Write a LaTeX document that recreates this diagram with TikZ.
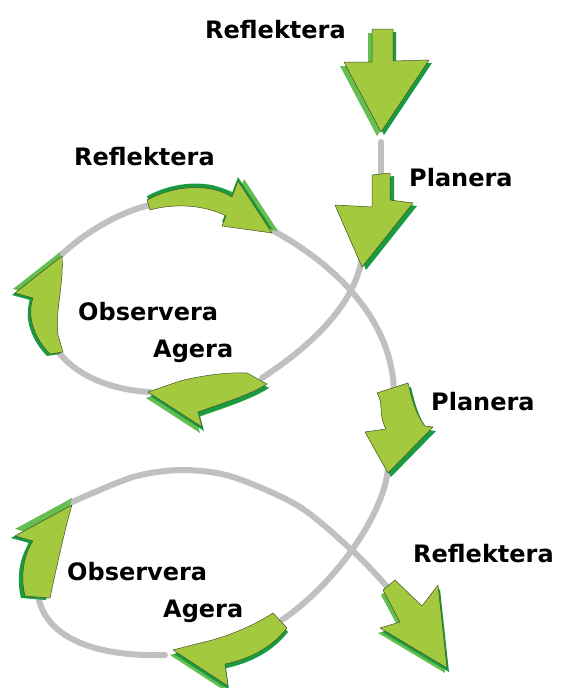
\documentclass[tikz,border=0pt]{standalone}
\usepackage{fontspec}
\setmainfont{DejaVu Sans}
\usetikzlibrary{calc}
\definecolor{leaf}{RGB}{163,201,62}
\definecolor{leafmid}{RGB}{100,190,80}
\definecolor{leafdark}{RGB}{25,155,65}
\definecolor{trackgray}{RGB}{192,192,192}
\definecolor{inkline}{RGB}{70,80,40}

% 3D arrow: light face shift, dark face shift, outline path
\newcommand{\leafarrow}[3]{%
  \fill[leafmid, shift={#1}] #3;
  \fill[leafdark, shift={#2}] #3;
  \filldraw[fill=leaf, draw=inkline, line width=0.5pt, line join=round] #3;}

\begin{document}
\begin{tikzpicture}[
  x=1pt, y=-1pt,
  lbl/.style={anchor=base west, inner sep=0pt,
              font=\fontsize{24}{28}\selectfont\bfseries},
  track/.style={draw=trackgray, line width=6pt, line cap=round}
]
\useasboundingbox (0,0) rectangle (560,688);

% Track points
\coordinate (topEnd)   at (381,142);
\coordinate (planAin)  at (381,180);
\coordinate (planAout) at (362,258);
\coordinate (refBout)  at (268,228);
\coordinate (refBin)   at (150,205);
\coordinate (obsAout)  at (60,256);
\coordinate (obsAin)   at (57,350);
\coordinate (ageAout)  at (150,392);
\coordinate (ageAin)   at (262,378);
\coordinate (planBin)  at (394,392);
\coordinate (planBout) at (388,468);
\coordinate (ageBin)   at (282,620);
\coordinate (ageBout)  at (165,655);
\coordinate (obsBin)   at (38,595);
\coordinate (obsBout)  at (70,503);
\coordinate (refCin)   at (390,590);

% Track — upper loop
\draw[track] (topEnd) -- (planAin);
\draw[track] (planAout) .. controls (355,300) and (320,340) .. (ageAin);
\draw[track] (refBout) .. controls (320,255) and (392,310) .. (planBin);
\draw[track] (ageAout) .. controls (110,390) and (75,375) .. (obsAin);
\draw[track] (obsAout) .. controls (85,232) and (120,212) .. (refBin);

% Track — lower loop
\draw[track] (planBout) .. controls (385,510) and (340,580) .. (ageBin);
\draw[track] plot[smooth] coordinates {(obsBout) (133,477) (183,470)
  (233,477) (300,507) (357,555) (refCin)};
\draw[track] (ageBout) .. controls (100,657) and (45,640) .. (obsBin);

% Arrows — straight ones
\leafarrow{(-4,4)}{(3,3)}{(372,29) -- (393,29) -- (393,61) -- (429,60)
  -- (381,132) -- (344,62) -- (372,62) -- cycle}
\leafarrow{(0,0)}{(4,3)}{(372,175) -- (390,173) -- (390,200) -- (413,203)
  -- (362,267) -- (335,205) -- (372,207) -- cycle}
\leafarrow{(0,0)}{(3,4)}{(377,393) -- (408,383) .. controls (412,400) and (416,415)
  .. (425,426) -- (433,427) -- (388,473) -- (365,432) -- (386,429)
  .. controls (378,415) and (384,403) .. cycle}
\leafarrow{(-2,5)}{(2,4)}{(383,590) -- (395,580) -- (422,606) -- (438,585)
  -- (447,668) -- (380,628) -- (400,622) -- cycle}

% Arrows — curved ones
\leafarrow{(6,-2)}{(0,-4)}{(147,200) .. controls (175,185) and (210,183)
  .. (232,197) -- (238,181) -- (272,233) -- (222,226) -- (226,216)
  .. controls (205,205) and (175,203) .. (150,210) -- cycle}
\leafarrow{(-2,-4)}{(-3,2)}{(50,354) .. controls (36,340) and (26,318)
  .. (33,298) -- (15,293) -- (62,256) .. controls (64,285) and (55,310)
  .. (58,335) -- (63,352) -- cycle}
\leafarrow{(-2,6)}{(2,4)}{(247,373) .. controls (225,372) and (200,376)
  .. (180,381) -- (148,392) -- (202,427) -- (198,412)
  .. controls (220,404) and (250,395) .. (267,384) -- cycle}
\leafarrow{(0,-7)}{(-4,2)}{(25,596) .. controls (20,575) and (24,555)
  .. (33,541) -- (15,536) -- (72,505) .. controls (66,525) and (58,560)
  .. (50,598) -- cycle}
\leafarrow{(-3,5)}{(1,4)}{(273,613) .. controls (255,625) and (225,638)
  .. (200,643) -- (173,650) -- (228,686) -- (225,664)
  .. controls (245,660) and (270,650) .. (287,628) -- cycle}

% Labels
\node[lbl] (refA)  at (205,38)  {Reflektera};
\node[lbl] (planA) at (409,186) {Planera};
\node[lbl] (refB)  at (74,165)  {Reflektera};
\node[lbl] (obsA)  at (78,320)  {Observera};
\node[lbl] (ageA)  at (153,357) {Agera};
\node[lbl] (planB) at (431,410) {Planera};
\node[lbl] (refC)  at (413,562) {Reflektera};
\node[lbl] (obsB)  at (67,580)  {Observera};
\node[lbl] (ageB)  at (163,617) {Agera};

\end{tikzpicture}
\end{document}
